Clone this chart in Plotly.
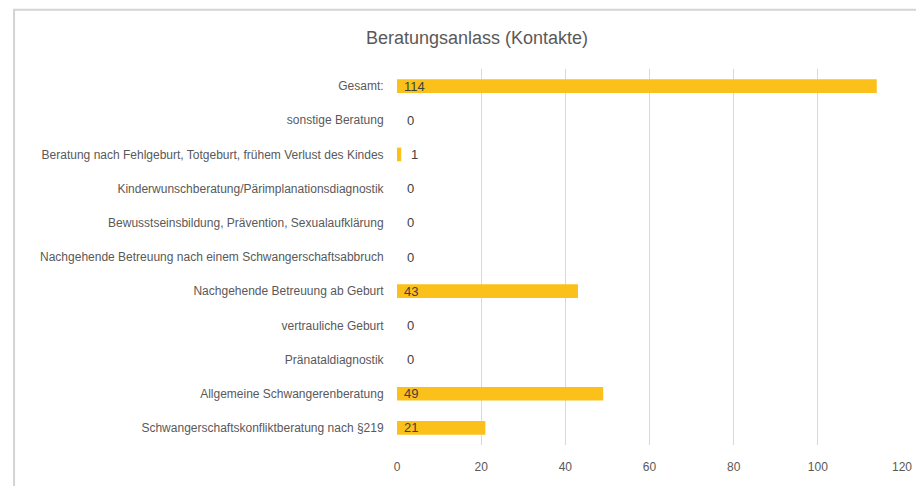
import plotly.graph_objects as go

# Kategorien von oben nach unten
kategorien = [
    "Gesamt:",
    "sonstige Beratung",
    "Beratung nach Fehlgeburt, Totgeburt, frühem Verlust des Kindes",
    "Kinderwunschberatung/Pärimplanationsdiagnostik",
    "Bewusstseinsbildung, Prävention, Sexualaufklärung",
    "Nachgehende Betreuung nach einem Schwangerschaftsabbruch",
    "Nachgehende Betreuung ab Geburt",
    "vertrauliche Geburt",
    "Pränataldiagnostik",
    "Allgemeine Schwangerenberatung",
    "Schwangerschaftskonfliktberatung nach §219",
]
kontakte = [114, 0, 1, 0, 0, 0, 43, 0, 0, 49, 21]
x_ticks = [0, 20, 40, 60, 80, 100, 120]

# die Seite hat 8px Rand, daher etwas kleiner
W, H = 916, 478
ml, mr, mt, mb = 389, 16, 61, 36
pw = W - ml - mr
ph = H - mt - mb

fig = go.Figure()
fig.add_trace(go.Bar(
    x=kontakte, y=kategorien, orientation="h",
    marker=dict(color="#FBC01A", line=dict(width=0)),
    width=0.4, hoverinfo="x+y",
))

# Datenbeschriftungen am Balkenanfang
for k, v in zip(kategorien, kontakte):
    fig.add_annotation(x=0, y=k, text=str(v), showarrow=False,
                       xanchor="left", xshift=5 if v > 2 else 8 + v * 4,
                       font=dict(size=13, color="#404040"))

# Rahmen des Diagramms (teilweise abgeschnitten)
fig.add_shape(type="rect", xref="paper", yref="paper",
              x0=(1.5 - ml) / pw, x1=(960 - ml) / pw,
              y0=-60 / ph, y1=(H - mb - 1) / ph,
              line=dict(color="#d4d4d4", width=2), layer="below")

fig.update_layout(
    width=W, height=H,
    margin=dict(l=ml, r=mr, t=mt, b=mb),
    paper_bgcolor="white", plot_bgcolor="white",
    font=dict(family="Liberation Sans, Arial, sans-serif", size=12, color="#595959"),
    title=dict(text="Beratungsanlass (Kontakte)", x=(477 - 8) / W, xref="container",
               xanchor="center", y=1 - 30 / H, yanchor="middle",
               font=dict(size=18, color="#595959")),
    showlegend=False,
    bargap=0.6,
)
fig.update_xaxes(range=[0, 120], tickvals=x_ticks, showgrid=True,
                 gridcolor="#d9d9d9", gridwidth=1, zeroline=False,
                 showline=False, ticks="outside", ticklen=11,
                 tickcolor="rgba(0,0,0,0)", tickfont=dict(size=12, color="#595959"))
fig.update_yaxes(autorange="reversed", showgrid=False, zeroline=False,
                 showline=False, ticks="outside", ticklen=10,
                 tickcolor="rgba(0,0,0,0)", tickfont=dict(size=12, color="#595959"))

fig.write_html("out.html")
